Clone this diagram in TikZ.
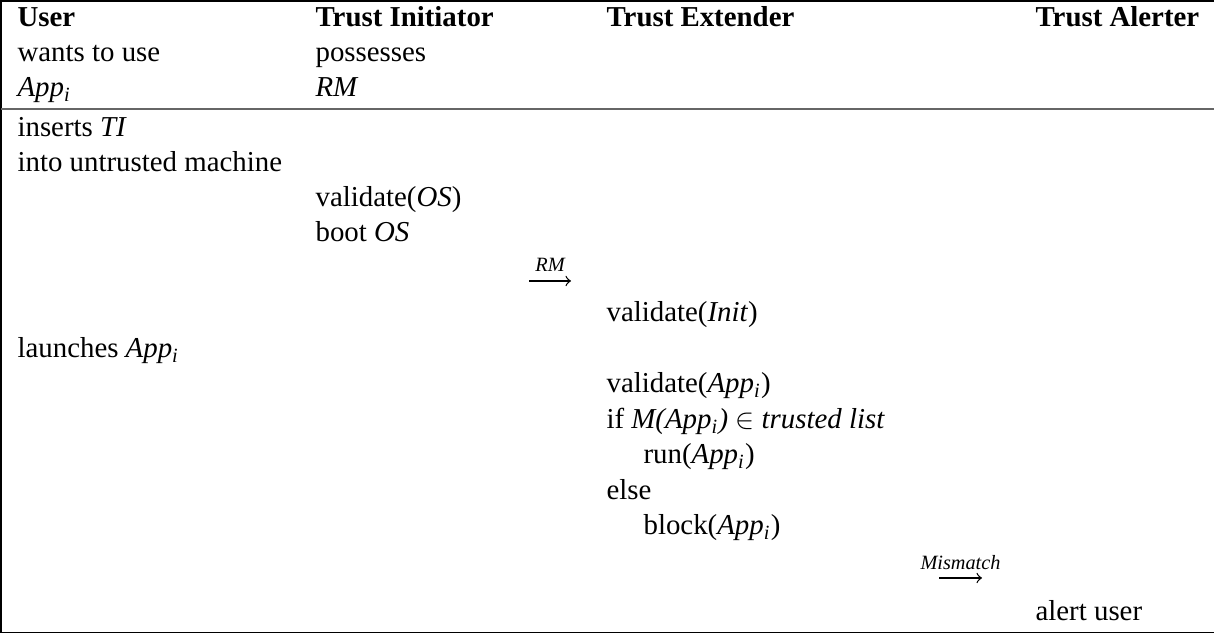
\documentclass[tikz,border=0pt]{standalone}
\usepackage{fontspec}
\setmainfont{Liberation Serif}
\newcommand{\appi}{\textit{App}\textsubscript{\textit{i}}}

\begin{document}
\begin{tikzpicture}[
    x=0.35pt, y=-0.35pt,
    cell/.style={anchor=base west, inner sep=0pt, font=\fontsize{10.1}{12}\selectfont},
    head/.style={cell, font=\fontsize{10.1}{12}\selectfont\bfseries},
    msg/.style={->, >=to, line width=0.45pt},
    msglabel/.style={anchor=base, inner sep=0pt, font=\fontsize{7.1}{8}\selectfont\itshape},
    rule/.style={line width=0.5pt},
    midrule/.style={line width=0.7pt, black!60}
]
\useasboundingbox (0,0) rectangle (1214,634);

% Frame
\draw[rule] (1214,1) -- (1,1) -- (1,632.5) -- (1214,632.5);
\draw[midrule] (1,109) -- (1214,109);

% Header
\node[head] (user) at (17,27) {User};
\node[head] (ti) at (315,27) {Trust Initiator};
\node[head] (te) at (606,27) {Trust Extender};
\node[head] (ta) at (1035,27) {Trust Alerter};
\node[cell] (want) at (17,62) {wants to use};
\node[cell] (poss) at (315,62) {possesses};
\node[cell] (app) at (17,97) {\appi};
\node[cell] (rm) at (315,97) {\textit{RM}};

% Steps
\node[cell] (insert) at (17,137) {inserts \textit{TI}};
\node[cell] (into) at (17,172) {into untrusted machine};
\node[cell] (valos) at (315,207) {validate(\textit{OS})};
\node[cell] (boot) at (315,242) {boot \textit{OS}};
\node[cell] (valinit) at (606,322) {validate(\textit{Init})};
\node[cell] (launch) at (17,358) {launches \appi};
\node[cell] (valapp) at (606,393) {validate(\appi)};
\node[cell] (ifm) at (606,429) {if \textit{M(App}\textsubscript{\textit{i}}\textit{)} $\in$ \textit{trusted list}};
\node[cell] (run) at (643,464) {run(\appi)};
\node[cell] (else) at (606,500) {else};
\node[cell] (block) at (643,535) {block(\appi)};
\node[cell] (alert) at (1035,621) {alert user};

% Messages
\coordinate (rmfrom) at (529,281);
\coordinate (rmto) at (571,281);
\draw[msg] (rmfrom) -- node[msglabel, yshift=3.2pt] (rmlbl) {RM} (rmto);
\coordinate (mmfrom) at (939,578);
\coordinate (mmto) at (982,578);
\draw[msg] (mmfrom) -- node[msglabel, yshift=2.9pt] (mmlbl) {Mismatch} (mmto);

\end{tikzpicture}
\end{document}
